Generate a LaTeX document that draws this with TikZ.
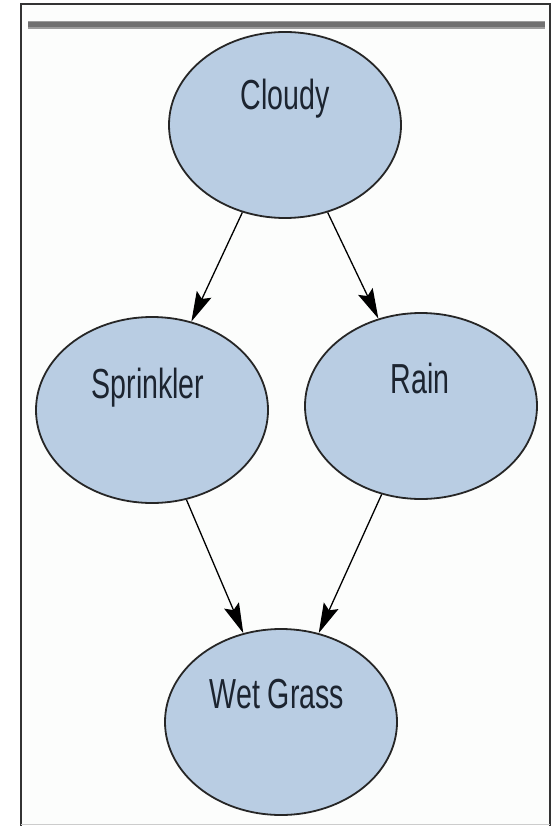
\documentclass[tikz,border=0pt]{standalone}
\usepackage{fontspec}
\newfontfamily\labfont[FakeStretch=0.68]{Liberation Sans}
\usetikzlibrary{arrows.meta,shapes.geometric}
\definecolor{nodefill}{RGB}{185,205,227}
\definecolor{txt}{RGB}{28,36,48}
\definecolor{bar}{RGB}{112,112,112}
\definecolor{inside}{RGB}{252,253,252}
\begin{document}
\begin{tikzpicture}[x=1pt,y=-1pt,
  bn/.style={ellipse, draw=black!85, line width=1.8pt, fill=nodefill,
    minimum width=232pt, minimum height=186pt, inner sep=0pt},
  lab/.style={font=\labfont\fontsize{42}{42}\selectfont, text=txt, anchor=base, inner sep=0pt},
  edge/.style={line width=1.3pt, draw=black, -{Stealth[length=30pt,width=16pt,inset=5pt]}}]
\useasboundingbox (0,0) rectangle (552,826);
\fill[white] (0,0) rectangle (552,826);
\fill[inside] (21,4) rectangle (550,824);
\draw[black!80, line width=1.5pt] (21,826) -- (21,4) -- (550,4) -- (550,826);
\draw[black!20, line width=1pt] (21,824) -- (550,824);
\fill[bar!70] (28,21) rectangle (545,29);
\fill[bar] (28,22.5) rectangle (545,27.5);

\node[bn] (cloudy) at (285,125) {};
\node[bn] (sprinkler) at (152,410) {};
\node[bn] (rain) at (421,406) {};
\node[bn] (wet) at (281,722) {};

\node[lab] (cloudyT) at (285,110) {Cloudy};
\node[lab] (sprinklerT) at (148,398) {Sprinkler};
\node[lab] (rainT) at (420,393) {Rain};
\node[lab] (wetT) at (277,708) {Wet Grass};

\draw[edge] (cloudy.244) -- (sprinkler.66);
\draw[edge] (cloudy.296) -- (rain.116);
\draw[edge] (sprinkler.291) -- (wet.113.6);
\draw[edge] (rain.246) -- (wet.67.5);
\end{tikzpicture}
\end{document}
